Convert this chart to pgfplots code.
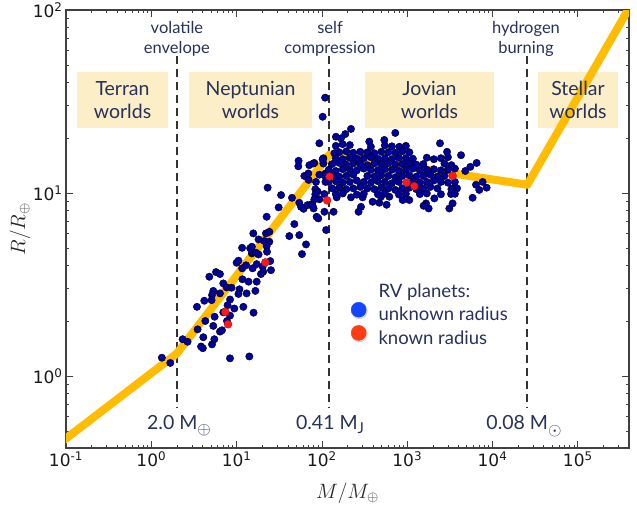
\documentclass[border=0pt]{standalone}
\usepackage{pgfplots}
\usepackage{pgfplotstable}
\pgfplotsset{compat=1.18}
\usepackage{fontspec}
\setmainfont{Lato}
\newfontfamily\tickfont{DejaVu Sans}
\definecolor{navytext}{RGB}{40,48,92}
\definecolor{boxfill}{RGB}{252,239,200}
\definecolor{gold}{RGB}{255,188,0}
\definecolor{dotblue}{RGB}{0,0,160}
\definecolor{dotred}{RGB}{255,25,25}
\definecolor{legblue}{RGB}{20,70,255}
\definecolor{legred}{RGB}{255,60,20}
\definecolor{dashcol}{RGB}{50,50,50}

\pgfplotstableread{
M R
1.33 1.26
1.67 1.18
2.33 1.59
2.66 1.54
3.49 1.80
4.07 1.63
3.83 1.45
4.02 1.42
4.30 2.00
3.43 2.39
4.18 2.58
4.79 3.49
5.74 3.70
6.38 3.61
6.98 3.21
5.33 2.92
5.15 2.77
5.09 2.60
6.38 2.83
7.64 3.05
8.73 3.04
8.37 2.62
7.84 2.44
9.40 2.34
8.37 2.14
7.71 2.00
6.98 2.23
5.52 2.11
5.33 1.88
5.15 1.49
5.48 1.59
6.38 1.75
6.74 1.78
10.8 2.98
10.5 2.81
11.7 3.38
13.8 3.28
13.1 2.83
12.0 2.39
16.6 2.92
17.2 3.28
15.8 2.22
8.37 1.25
14.1 1.28
10.0 4.16
10.5 4.27
12.9 4.03
11.6 3.88
15.1 4.68
17.2 4.09
15.4 3.88
93.3 18.7
53.3 15.0
52.9 14.0
71.2 14.2
81.5 14.6
104 15.5
104 14.5
93.3 12.6
62.2 12.4
69.8 11.8
23.1 10.7
33.2 9.75
44.6 9.42
31.1 8.35
54.3 8.85
56.9 8.41
61.0 8.20
67.9 8.60
76.5 8.71
83.7 10.5
89.0 10.2
83.7 9.84
93.3 9.24
107 9.88
79.9 8.24
90.7 7.27
107 7.90
112 6.28
22.5 7.42
47.5 6.77
41.5 5.82
54.3 5.89
65.1 5.24
58.4 4.64
15.7 6.02
18.1 5.58
22.1 6.02
24.2 6.14
21.1 5.47
24.2 5.42
22.5 5.13
11.6 5.02
14.4 4.99
15.4 4.78
18.1 4.62
22.7 4.78
15.1 5.09
16.9 4.72
19.3 3.61
24.8 4.25
25.3 3.79
20.2 3.96
20.5 3.72
109 33.2
102 26.1
79.3 14.5
85.3 11.5
81.5 9.24
77.8 8.49
86.7 7.42
137 7.90
149 9.47
110 12.8
110 11.5
102 15.3
69.3 12.8
219 22.4
188 21.0
167 19.9
146 20.3
175 18.5
140 16.5
359 19.1
725 21.3
808 17.9
539 19.5
2422 18.7
2930 16.8
4276 16.1
6510 14.6
5495 13.9
4797 13.2
7656 11.5
8531 10.7
6400 11.1
7000 10.4
5845 9.42
3404 10.6
3837 10.6
3260 9.88
3116 8.24
3404 8.78
2078 9.35
1660 8.78
1556 8.52
1058 9.16
884 9.16
1386 10.4
1782 8.24
219 9.47
300 9.47
287 8.41
269 7.90
393 8.96
471 8.85
573 8.63
617 9.55
493 9.55
145.5 18.1
212.3 18.3
374.9 17.9
547 18.2
660.7 18.0
963.9 18.1
160 16.7
193.2 16.9
233.3 16.6
281.8 16.8
341.2 16.7
412.1 16.5
497.7 16.8
601.2 16.7
726.1 16.6
877 16.9
1059 16.7
145.5 15.5
175.8 15.3
212.3 15.6
256.4 15.4
309.7 15.5
374.9 15.7
452.9 15.4
547 15.5
660.7 15.3
798 15.6
963.9 15.5
1164 15.4
1698 15.6
2051 15.3
2483 15.5
2999 15.7
132.4 14.4
160 14.6
193.2 14.3
233.3 14.5
281.8 14.4
341.2 14.2
412.1 14.5
497.7 14.4
601.2 14.6
726.1 14.3
877 14.4
1059 14.5
1279 14.3
1545 14.4
2729 14.5
3296 14.2
120.5 13.4
145.5 13.2
175.8 13.5
212.3 13.4
256.4 13.3
309.7 13.6
374.9 13.4
452.9 13.3
547 13.5
660.7 13.4
798 13.2
963.9 13.4
1164 13.6
1406 13.3
1698 13.4
2051 13.5
2483 13.3
2999 13.4
3622 13.6
109.6 12.4
132.4 12.5
160 12.3
193.2 12.4
233.3 12.6
341.2 12.4
412.1 12.3
497.7 12.5
601.2 12.4
726.1 12.2
877 12.4
1059 12.5
1279 12.3
1545 12.4
1866 12.6
2259 12.3
2729 12.4
120.5 11.5
145.5 11.6
175.8 11.4
212.3 11.5
256.4 11.7
309.7 11.5
374.9 11.4
452.9 11.6
547 11.5
660.7 11.3
798 11.5
1164 11.6
1406 11.4
1698 11.5
2051 11.7
2483 11.5
2999 11.4
3622 11.5
132.4 10.6
160 10.7
193.2 10.5
233.3 10.6
281.8 10.8
341.2 10.6
412.1 10.5
497.7 10.7
601.2 10.6
726.1 10.4
877 10.6
1059 10.7
1279 10.5
1545 10.6
1866 10.8
2259 10.6
3296 10.5
145.5 9.87
175.8 9.95
256.4 9.80
309.7 9.90
452.9 9.85
547 9.95
798 9.82
963.9 9.90
1406 9.87
1698 9.95
2483 9.85
3622 9.90
}\bluedata

\pgfplotstableread{
M R
7.37 2.24
7.93 1.92
21.7 4.18
123 12.3
115 9.12
984 11.4
1211 10.9
3404 12.4
}\reddata

\begin{document}
\begin{tikzpicture}
\useasboundingbox (-66pt,-56pt) rectangle (571pt,448pt);
\begin{axis}[
  at={(0pt,0pt)}, anchor=south west,
  scale only axis, width=563pt, height=438pt,
  xmode=log, ymode=log,
  xmin=0.1, xmax=3.98e5, ymin=0.4046, ymax=100,
  xtick={0.1,1,10,100,1000,10000,100000},
  xticklabels={10\textsuperscript{-1},10\textsuperscript{0},10\textsuperscript{1},10\textsuperscript{2},10\textsuperscript{3},10\textsuperscript{4},10\textsuperscript{5}},
  minor xtick={0.2,0.3,0.4,0.5,0.6,0.7,0.8,0.9,2,3,4,5,6,7,8,9,20,30,40,50,60,70,80,90,200,300,400,500,600,700,800,900,2000,3000,4000,5000,6000,7000,8000,9000,20000,30000,40000,50000,60000,70000,80000,90000,200000,300000},
  ytick={1,10,100},
  yticklabels={10\textsuperscript{0},10\textsuperscript{1},10\textsuperscript{2}},
  minor ytick={0.5,0.6,0.7,0.8,0.9,2,3,4,5,6,7,8,9,20,30,40,50,60,70,80,90},
  xtick pos=both, ytick pos=both,
  xticklabel pos=lower, yticklabel pos=left,
  tick align=inside,
  major tick length=7pt, minor tick length=3.5pt,
  tick style={color=black!75, line width=0.8pt},
  axis line style={color=black!75, line width=1.1pt},
  tick label style={font=\tickfont\fontsize{17}{19}\selectfont, text=black!90},
  xlabel={\fontsize{20}{24}\selectfont$M/M_\oplus$},
  ylabel={\fontsize{20}{24}\selectfont$R/R_\oplus$},
  xlabel style={at={(axis description cs:0.5,-0.1142)}, anchor=base, text=black!85},
  ylabel style={at={(axis description cs:-0.0817,0.5)}, anchor=center, text=black!85},
  legend style={draw=none, fill=none, at={(0.5005,0.381)}, anchor=north west,
    font=\fontsize{18.5}{22}\selectfont, text=navytext, row sep=-0.8pt,
    nodes={inner sep=1pt, text height=13.5pt, text depth=4pt},
    /tikz/every odd column/.append style={column sep=10pt}},
  legend cell align=left,
]
% region boxes
\node[fill=boxfill, minimum width=91pt, minimum height=56pt, inner sep=0pt] at (rel axis cs:0.1004,0.7945) {};
\node[fill=boxfill, minimum width=123pt, minimum height=56pt, inner sep=0pt] at (rel axis cs:0.3277,0.7945) {};
\node[fill=boxfill, minimum width=129pt, minimum height=56pt, inner sep=0pt] at (rel axis cs:0.6456,0.7945) {};
\node[fill=boxfill, minimum width=80pt, minimum height=56pt, inner sep=0pt] at (rel axis cs:0.9094,0.7945) {};

% dashed transition lines
\addplot[dashcol, line width=2pt, dash pattern=on 8pt off 5pt, forget plot] coordinates {(2,56.1) (2,0.668)};
\addplot[dashcol, line width=2pt, dash pattern=on 8pt off 5pt, forget plot] coordinates {(122,56.1) (122,0.668)};
\addplot[dashcol, line width=2pt, dash pattern=on 8pt off 5pt, forget plot] coordinates {(25600,56.1) (25600,0.668)};

% mass-radius relation
\addplot[gold, line width=8pt, line join=round, forget plot] coordinates {(0.08,0.421) (2.0,1.33) (122,16.2) (25600,11.1) (450000,113)};

% texts
\begin{scope}[every node/.style={text=navytext, align=center}]
\node[font=\fontsize{19.5}{23}\selectfont] at (rel axis cs:0.1004,0.7945) {Terran\\worlds};
\node[font=\fontsize{19.5}{23}\selectfont] at (rel axis cs:0.3277,0.7945) {Neptunian\\worlds};
\node[font=\fontsize{19.5}{23}\selectfont] at (rel axis cs:0.6456,0.7945) {Jovian\\worlds};
\node[font=\fontsize{19.5}{23}\selectfont] at (rel axis cs:0.9094,0.7945) {Stellar\\worlds};
\node[font=\fontsize{16.5}{20.5}\selectfont] at (rel axis cs:0.197,0.934) {volatile\\envelope};
\node[font=\fontsize{16.5}{20.5}\selectfont] at (rel axis cs:0.469,0.934) {self\\compression};
\node[font=\fontsize{16.5}{20.5}\selectfont] at (rel axis cs:0.817,0.934) {hydrogen\\burning};
\node[font=\fontsize{19.5}{22}\selectfont, anchor=base] at (rel axis cs:0.2007,0.0422) {2.0 M\raisebox{-5.3pt}{\fontsize{17.28}{18}\selectfont$\oplus$}};
\node[font=\fontsize{19.5}{22}\selectfont, anchor=base] at (rel axis cs:0.469,0.0422) {0.41 M\raisebox{-4pt}{\fontsize{15}{15}\selectfont J}};
\node[font=\fontsize{19.5}{22}\selectfont, anchor=base] at (rel axis cs:0.8135,0.0422) {0.08 M\raisebox{-6pt}{\fontsize{17.28}{18}\selectfont$\odot$}};
\end{scope}

% planets
\addplot[only marks, mark=*, mark size=3.7pt, mark options={fill=dotblue, draw=black, line width=0.4pt}, forget plot] table[x=M, y=R] {\bluedata};
\addplot[only marks, mark=*, mark size=4pt, mark options={fill=dotred, draw=red!70!black, line width=0.3pt}, forget plot] table[x=M, y=R] {\reddata};

% legend
\addlegendimage{empty legend}
\addlegendentry{RV planets:}
\addlegendimage{legend image code/.code={\fill[black!25, opacity=0.6] (0.3cm-2.8pt,5.3pt) circle (8pt); \fill[legblue] (0.3cm-3.5pt,6.5pt) circle (7.5pt);}}
\addlegendentry{unknown radius}
\addlegendimage{legend image code/.code={\fill[black!25, opacity=0.6] (0.3cm-2.8pt,5.3pt) circle (8pt); \fill[legred] (0.3cm-3.5pt,6.5pt) circle (7.5pt);}}
\addlegendentry{known radius}
\end{axis}
\end{tikzpicture}
\end{document}
